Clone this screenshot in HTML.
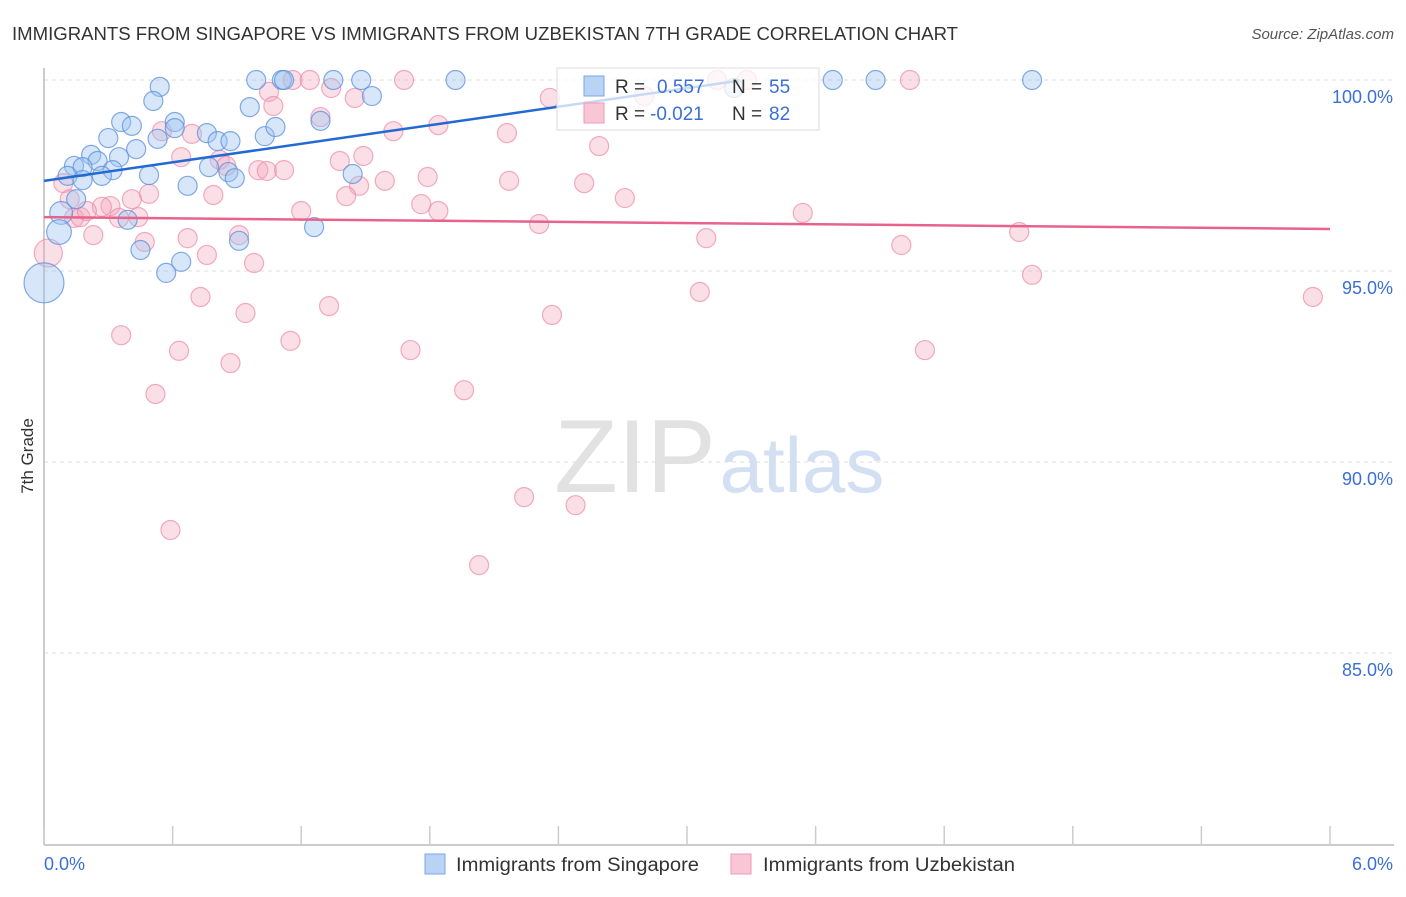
<!DOCTYPE html>
<html><head><meta charset="utf-8">
<style>
body{margin:0;background:#fff;font-family:"Liberation Sans",sans-serif;}
svg text{font-family:"Liberation Sans",sans-serif;}
</style></head>
<body>
<svg id="chart" width="1406" height="892" xmlns="http://www.w3.org/2000/svg">
<text x="12" y="40" font-size="18" fill="#333" textLength="946" lengthAdjust="spacingAndGlyphs">IMMIGRANTS FROM SINGAPORE VS IMMIGRANTS FROM UZBEKISTAN 7TH GRADE CORRELATION CHART</text>
<text x="1394" y="39" font-size="15" fill="#555" text-anchor="end" font-style="italic">Source: ZipAtlas.com</text>
<text x="33" y="456" font-size="17" fill="#333" text-anchor="middle" transform="rotate(-90 33 456)">7th Grade</text>
<g>
<text x="635" y="492" font-size="104" fill="#e2e2e2" font-family="Liberation Serif,serif" text-anchor="middle">ZIP</text>
<text x="802" y="492" font-size="78" fill="#d3e0f3" text-anchor="middle">atlas</text>
</g>
<g id="grid"></g>
<g id="axes"></g>
<g id="pts"></g>
<g id="trends"></g>
<g>
<rect x="557" y="68" width="262" height="62" fill="#fff" fill-opacity="0.75" stroke="#ddd"/>
<rect x="584" y="76" width="20" height="20" fill="#b9d3f5" stroke="#7aa6e6"/>
<rect x="584" y="103" width="20" height="20" fill="#f9c6d5" stroke="#ee9ab4"/>
<text x="615" y="93" font-size="19" fill="#333">R = </text><text x="657" y="93" font-size="19" fill="#3a6fd8">0.557</text>
<text x="732" y="93" font-size="19" fill="#333">N = </text><text x="769" y="93" font-size="19" fill="#3a6fd8">55</text>
<text x="615" y="120" font-size="19" fill="#333">R = </text><text x="650" y="120" font-size="19" fill="#3a6fd8">-0.021</text>
<text x="732" y="120" font-size="19" fill="#333">N = </text><text x="769" y="120" font-size="19" fill="#3a6fd8">82</text>
</g>
<g>
<rect x="425" y="854" width="20" height="20" fill="#b9d3f5" stroke="#7aa6e6"/>
<text x="456" y="871" font-size="19" fill="#333" textLength="243" lengthAdjust="spacingAndGlyphs">Immigrants from Singapore</text>
<rect x="731" y="854" width="20" height="20" fill="#f9c6d5" stroke="#ee9ab4"/>
<text x="763" y="871" font-size="19" fill="#333" textLength="252" lengthAdjust="spacingAndGlyphs">Immigrants from Uzbekistan</text>
</g>
</svg>
<script>
const blueX=[0.54,0.51,0.99,1.11,1.12,1.35,1.48,1.92,3.68,3.88,4.61,1.53,0.96,0.36,0.41,0.61,0.30,0.53,0.61,0.76,0.81,0.87,1.03,1.08,1.29,0.43,0.35,0.22,0.25,0.14,0.18,0.32,0.77,0.86,0.89,0.11,0.18,0.27,0.49,0.67,1.44,0.08,0.15,0.39,0.07,0.91,1.26,0.45,0.64,0.57,0.0,3.22];
const blueY=[99.82,99.45,100,100,100,100,100,100,100,100,100,99.58,99.29,98.90,98.80,98.90,98.48,98.46,98.74,98.61,98.40,98.40,98.53,98.77,98.93,98.19,97.98,98.04,97.88,97.75,97.72,97.64,97.72,97.59,97.43,97.49,97.38,97.49,97.51,97.23,97.54,96.52,96.88,96.34,96.02,95.79,96.15,95.55,95.24,94.95,94.69,99.79];
const blueSize=[1,1,1,1,1,1,1,1,1,1,1,1,1,1,1,1,1,1,1,1,1,1,1,1,1,1,1,1,1,1,1,1,1,1,1,1,1,1,1,1,1,1.2,1,1,1.3,1,1,1,1,1,2.1,1];
const pinkX=[1.16,1.24,1.68,3.14,3.28,4.04,1.05,1.34,1.45,1.07,1.29,2.36,2.80,1.84,1.63,2.16,2.59,0.55,0.69,0.64,0.82,0.85,1.00,1.04,1.12,1.38,1.49,1.47,1.59,1.79,2.17,2.52,1.41,0.79,0.49,0.41,0.31,0.27,0.09,0.12,0.14,0.17,0.20,0.35,0.44,0.23,0.47,0.67,0.91,1.20,1.76,1.84,2.31,2.71,3.54,3.09,4.00,4.55,4.61,5.92,0.98,0.76,0.02,0.73,1.33,0.94,3.06,2.37,0.36,1.15,0.63,0.87,1.71,4.11,0.52,1.96,2.24,2.48,0.59,2.03];
const pinkY=[100,100,100,100,100,100,99.69,99.79,99.53,99.32,99.03,99.53,99.58,98.82,98.66,98.61,98.27,98.66,98.59,97.98,97.91,97.75,97.64,97.62,97.64,97.88,98.01,97.23,97.36,97.46,97.36,97.30,96.96,96.99,97.02,96.88,96.70,96.68,97.30,96.88,96.39,96.41,96.57,96.39,96.41,95.94,95.76,95.86,95.94,96.57,96.75,96.57,96.23,96.91,96.52,95.86,95.68,96.02,94.90,94.32,95.21,95.42,95.47,94.32,94.08,93.90,94.45,93.85,93.32,93.17,92.91,92.59,92.93,92.93,91.78,91.88,89.08,88.87,88.22,87.30];
const blueTrendX=[0,3.24];
const blueTrendY=[97.36,99.98];
const pinkTrendX=[0,6];
const pinkTrendY=[96.41,96.10];
const yTicks=[100,95,90,85];
const yTickLabels=["100.0%","95.0%","90.0%","85.0%"];
const xTicks=[0,0.6,1.2,1.8,2.4,3.0,3.6,4.2,4.8,5.4,6.0];

const NS="http://www.w3.org/2000/svg";
const sx=v=>44+v*(1330-44)/6;
const sy=v=>80+(100-v)*38.2;
function mk(tag,attrs,parent){const e=document.createElementNS(NS,tag);for(const k in attrs)e.setAttribute(k,attrs[k]);parent.appendChild(e);return e;}
const grid=document.getElementById('grid'),axes=document.getElementById('axes'),pts=document.getElementById('pts'),tr=document.getElementById('trends');
yTicks.forEach((t,i)=>{
  const l=mk('line',{x1:44,x2:1394,y1:sy(t),y2:sy(t),stroke:'#ddd','stroke-dasharray':'4,4'},grid);
  
  
  const tx=mk('text',{x:1393,y:sy(t)+23,'font-size':18,fill:'#3a6fd8','text-anchor':'end'},axes);
  tx.textContent=yTickLabels[i];
  
  
});
const ya=mk('line',{x1:44,x2:44,y1:68,y2:845,stroke:'#bbb','stroke-width':1.5},axes);


const xa=mk('line',{x1:44,x2:1394,y1:845,y2:845,stroke:'#bbb','stroke-width':1.5},axes);


xTicks.forEach(t=>{
  const l=mk('line',{x1:sx(t),x2:sx(t),y1:826,y2:845,stroke:'#ccc','stroke-width':1.5},axes);
  
  
});
const x0=mk('text',{x:44,y:870,'font-size':18,fill:'#3a6fd8'},axes);x0.textContent='0.0%';


const x1=mk('text',{x:1393,y:870,'font-size':18,fill:'#3a6fd8','text-anchor':'end'},axes);x1.textContent='6.0%';


pinkX.forEach((v,i)=>{
  const r=(i===62)?14:9.5;
  const c=mk('circle',{cx:sx(v),cy:sy(pinkY[i]),r:r,fill:'#f4a3bb','fill-opacity':0.35,stroke:'#ec89a8','stroke-opacity':0.7,'stroke-width':1.2},pts);
  
  
});
blueX.forEach((v,i)=>{
  const c=mk('circle',{cx:sx(v),cy:sy(blueY[i]),r:9.5*blueSize[i],fill:'#9cc2f0','fill-opacity':0.4,stroke:'#5b8fdc','stroke-opacity':0.75,'stroke-width':1.2},pts);
  
  
});
const bl=mk('line',{x1:sx(blueTrendX[0]),y1:sy(blueTrendY[0]),x2:sx(blueTrendX[1]),y2:sy(blueTrendY[1]),stroke:'#2269d2','stroke-width':2.5},tr);


const pl=mk('line',{x1:sx(pinkTrendX[0]),y1:sy(pinkTrendY[0]),x2:sx(pinkTrendX[1]),y2:sy(pinkTrendY[1]),stroke:'#e8638c','stroke-width':2.5},tr);


</script>
</body></html>
